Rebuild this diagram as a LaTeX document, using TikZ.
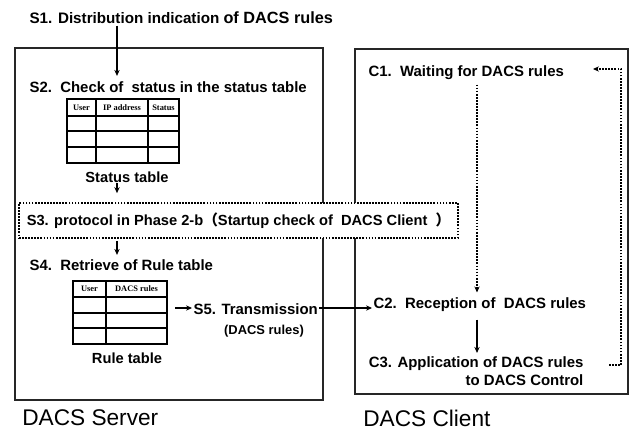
\documentclass[tikz,border=0pt]{standalone}
\usepackage{fontspec}
\setmainfont{Liberation Sans}
\newfontfamily\tabfont{Liberation Serif}
\newfontfamily\cjk{Noto Sans CJK SC}
\usetikzlibrary{arrows.meta,calc}
\tikzset{
  boxline/.style={line width=1.6pt,draw=black!85},
  arr/.style={line width=1.1pt,-{Stealth[length=4.5pt,width=4pt]}},
  dotarr/.style={line width=1.3pt,densely dotted,-{Stealth[length=4.5pt,width=4pt]}},
  steptext/.style={font=\bfseries\fontsize{11.2}{13}\selectfont,inner sep=1pt},
  tablbl/.style={font=\bfseries\fontsize{11}{13}\selectfont,inner sep=1pt},
  headtxt/.style={font=\tabfont\bfseries\fontsize{6.3}{7}\selectfont,inner sep=0pt},
  grid/.style={line width=0.8pt},
  sidelbl/.style={font=\fontsize{17}{20}\selectfont,inner sep=0pt,anchor=west}
}
\begin{document}
\begin{tikzpicture}[x=0.75pt,y=-0.75pt]
\useasboundingbox (0,0) rectangle (632,432);
\fill[white] (0,0) rectangle (632,432);

% server and client frames
\draw[boxline] (15,48) rectangle (323,400);
\draw[boxline] (355,49) rectangle (628,394);

% server steps
\node[steptext,anchor=west,font=\bfseries\fontsize{11.4}{13}\selectfont] (s1) at (28,18)
      {S1. Distribution indication {\fontsize{12.2}{13}\selectfont of DACS rules}};
\node[steptext,anchor=west] (s2) at (28,87) {S2.\ \ Check of\ \ status in the status table};

% status table
\draw[grid] (67,99) rectangle (179,163);
\foreach \yy in {116,131,147} \draw[grid] (67,\yy) -- (179,\yy);
\foreach \xx in {96,148} \draw[grid] (\xx,99) -- (\xx,163);
\node[headtxt] (h1) at (81.5,107.5) {User};
\node[headtxt] (h2) at (122,107.5) {IP address};
\node[headtxt] (h3) at (163.5,107.5) {Status};
\node[tablbl] (stlbl) at (127,177) {Status table};

% startup check (spans both frames)
\node[draw,densely dotted,line width=1.3pt,fill=white,minimum width=439*0.75pt,
      minimum height=35*0.75pt,inner sep=0pt,font=\bfseries\fontsize{11}{12}\selectfont]
      (s3) at (238.5,220.5) {S3. protocol in Phase 2-b{\cjk（}Startup check of\ \ DACS Client\ \ {\cjk）}};

\node[steptext,anchor=west] (s4) at (28,265) {S4.\ \ Retrieve of Rule table};

% rule table
\draw[grid] (73,281) rectangle (167,344);
\foreach \yy in {297,313,328} \draw[grid] (73,\yy) -- (167,\yy);
\draw[grid] (106,281) -- (106,344);
\node[headtxt] (r1) at (89.5,289) {User};
\node[headtxt] (r2) at (136.5,289) {DACS rules};
\node[tablbl] (rulbl) at (127,358) {Rule table};

\node[steptext,anchor=west] (s5) at (192,309) {S5. Transmission};
\node[font=\bfseries\fontsize{9.7}{11}\selectfont,inner sep=1pt] (s5b) at (264,331) {(DACS rules)};

% client steps
\node[steptext,anchor=west] (c1) at (367,73) {C1.\ \ Waiting for DACS rules};
\node[steptext,anchor=west] (c2) at (372,305) {C2.\ \ Reception of\ \ DACS rules};
\node[steptext,anchor=east,align=right,font=\bfseries\fontsize{11.2}{13.5}\selectfont] (c3) at (585,371)
      {C3. Application of DACS rules\\to DACS Control};

% side labels
\node[sidelbl] (srv) at (22,418) {DACS Server};
\node[sidelbl] (cli) at (363,418) {DACS Client};

% connectors
\coordinate (xa) at (117,0);
\coordinate (xc) at (477,0);
\draw[arr] (s1.south -| xa) -- ($(s2.north -| xa)+(0,-4)$);
\draw[arr] (stlbl.south -| xa) ++(0,-1) -- ($(s3.north -| xa)+(0,-9)$);
\draw[arr] ($(s3.south -| xa)+(0,2)$) -- ($(s4.north -| xa)+(0,-3)$);
\draw[arr] (175,308) -- (s5.west |- 0,308);
\draw[arr] (s5.east |- 0,308) -- (c2.west |- 0,308);
\draw[dotarr] ($(c1.south -| xc)+(0,3)$) -- ($(c2.north -| xc)+(0,-4)$);
\draw[arr] ($(c2.south -| xc)+(0,6)$) -- ($(c3.north -| xc)+(0,-2)$);
\draw[dotarr] ($(c3.east)+(24,-6)$) -- (621,365) -- (621,69) -- (593,69);
\end{tikzpicture}
\end{document}
